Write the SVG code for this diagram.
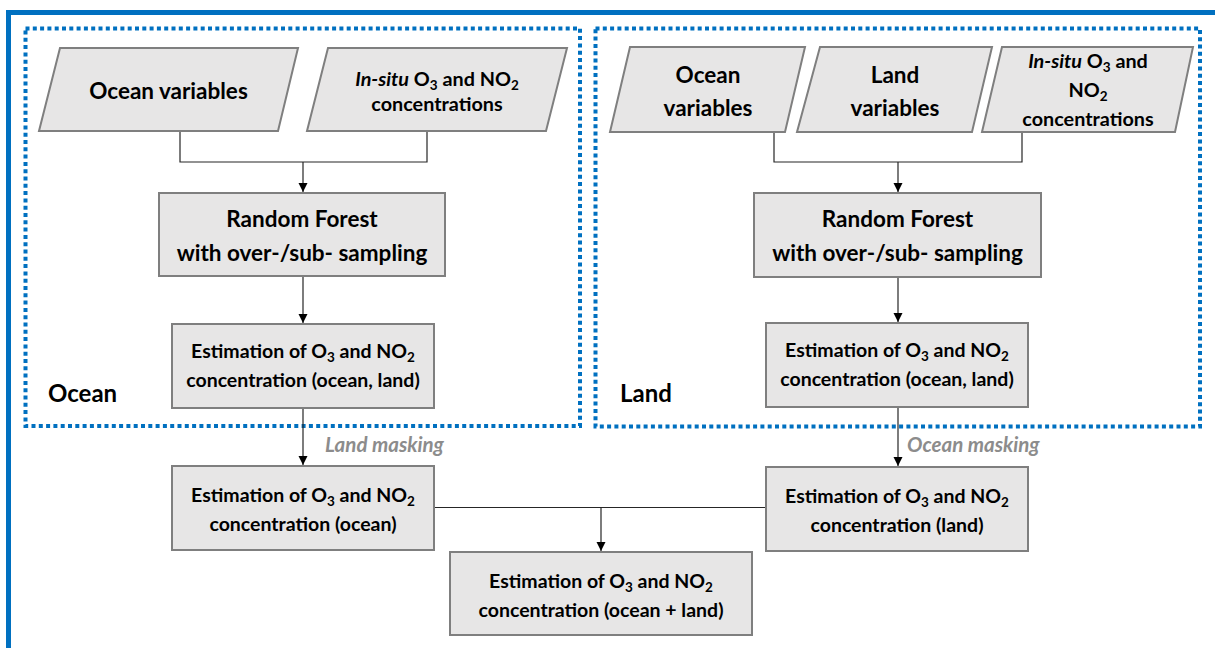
<svg xmlns="http://www.w3.org/2000/svg" width="1215" height="648" viewBox="0 0 1215 648">
<defs>
<marker id="arr" markerWidth="10" markerHeight="10" refX="9" refY="5" orient="auto" markerUnits="userSpaceOnUse">
<path d="M0,0.5 L9,5 L0,9.5 Z" fill="#000"/>
</marker>
<style>
.node{fill:#E7E6E6;stroke:#7F7F7F;stroke-width:2}
.t{font-family:Lato,"Open Sans",sans-serif;font-weight:bold;fill:#000;text-anchor:middle}
.big{font-size:22.5px}
.mid{font-size:19.8px}
.rf{font-size:22.5px}
.est{font-size:19.5px}
.sub{font-size:13.5px}
.lab{font-family:Lato,"Open Sans",sans-serif;font-weight:bold;font-size:24px;fill:#000}
.mask{font-family:Lato,"Open Sans",sans-serif;font-weight:bold;font-style:italic;font-size:20.5px;fill:#8C8C8C}
.conn{fill:none;stroke:#262626;stroke-width:1.2}
.dot{fill:none;stroke:#0070C0;stroke-width:4;stroke-dasharray:4 3.3}
</style>
</defs>
<rect width="1215" height="648" fill="#fff"/>
<path d="M8.5,648 V12.5 H1215" fill="none" stroke="#0070C0" stroke-width="5"/>
<g id="regions">
<rect class="dot" x="25.5" y="28.5" width="554.5" height="397.5"/>
<rect class="dot" x="595.5" y="28.5" width="604.5" height="398"/>
<text class="lab" x="48" y="402">Ocean</text>
<text class="lab" x="620" y="402">Land</text>
</g>
<g id="connectors">
<path class="conn" d="M180,131 V162 H427 V131"/>
<path class="conn" d="M303,162 V192" marker-end="url(#arr)"/>
<path class="conn" d="M303,276 V323" marker-end="url(#arr)"/>
<path class="conn" d="M303,408 V465" marker-end="url(#arr)"/>
<path class="conn" d="M774,132 V162 H1022 V132"/>
<path class="conn" d="M898,162 V192" marker-end="url(#arr)"/>
<path class="conn" d="M898,277 V322" marker-end="url(#arr)"/>
<path class="conn" d="M898,407 V466" marker-end="url(#arr)"/>
<path class="conn" d="M434,507.5 H765"/>
<path class="conn" d="M601,507.5 V551" marker-end="url(#arr)"/>
<text class="mask" x="325" y="452">Land masking</text>
<text class="mask" x="907" y="452">Ocean masking</text>
</g>
<g id="ocean-variables-left">
<polygon class="node" points="60,48 298,48 278,131 39,131"/>
<text class="t big" x="168.5" y="99">Ocean variables</text>
</g>
<g id="insitu-left">
<polygon class="node" points="328,48 567,48 546,131 307,131"/>
<text class="t mid" x="437" y="86"><tspan font-style="italic">In-situ</tspan> O<tspan class="sub" dy="4">3</tspan><tspan dy="-4"> and NO</tspan><tspan class="sub" dy="4">2</tspan></text>
<text class="t mid" x="437" y="111">concentrations</text>
</g>
<g id="rf-left">
<rect class="node" x="159" y="193" width="286" height="83"/>
<text class="t rf" x="302" y="227">Random Forest</text>
<text class="t rf" x="302" y="261">with over-/sub- sampling</text>
</g>
<g id="est-left">
<rect class="node" x="172" y="324" width="262" height="84"/>
<text class="t est" x="303" y="358"><tspan>Estimation of O</tspan><tspan class="sub" dy="4">3</tspan><tspan dy="-4"> and NO</tspan><tspan class="sub" dy="4">2</tspan></text>
<text class="t est" x="303" y="387">concentration (ocean, land)</text>
</g>
<g id="ocean-variables-right">
<polygon class="node" points="630,47 805,47 785,132 610,132"/>
<text class="t big" x="708" y="83">Ocean</text>
<text class="t big" x="708" y="116">variables</text>
</g>
<g id="land-variables-right">
<polygon class="node" points="820,47 992,47 972,132 797,132"/>
<text class="t big" x="895" y="83">Land</text>
<text class="t big" x="895" y="116">variables</text>
</g>
<g id="insitu-right">
<polygon class="node" points="1002,47 1193,47 1175,132 982,132"/>
<text class="t mid" x="1088" y="68"><tspan font-style="italic">In-situ</tspan> O<tspan class="sub" dy="4">3</tspan><tspan dy="-4"> and</tspan></text>
<text class="t mid" x="1088" y="97">NO<tspan class="sub" dy="4">2</tspan></text>
<text class="t mid" x="1088" y="126">concentrations</text>
</g>
<g id="rf-right">
<rect class="node" x="754" y="193" width="287" height="84"/>
<text class="t rf" x="897.5" y="227">Random Forest</text>
<text class="t rf" x="897.5" y="261">with over-/sub- sampling</text>
</g>
<g id="est-right">
<rect class="node" x="766" y="323" width="262" height="84"/>
<text class="t est" x="897" y="357"><tspan>Estimation of O</tspan><tspan class="sub" dy="4">3</tspan><tspan dy="-4"> and NO</tspan><tspan class="sub" dy="4">2</tspan></text>
<text class="t est" x="897" y="386">concentration (ocean, land)</text>
</g>
<g id="est-ocean">
<rect class="node" x="172" y="466" width="262" height="84"/>
<text class="t est" x="303" y="502"><tspan>Estimation of O</tspan><tspan class="sub" dy="4">3</tspan><tspan dy="-4"> and NO</tspan><tspan class="sub" dy="4">2</tspan></text>
<text class="t est" x="303" y="531">concentration (ocean)</text>
</g>
<g id="est-land">
<rect class="node" x="766" y="467" width="262" height="84"/>
<text class="t est" x="897" y="503"><tspan>Estimation of O</tspan><tspan class="sub" dy="4">3</tspan><tspan dy="-4"> and NO</tspan><tspan class="sub" dy="4">2</tspan></text>
<text class="t est" x="897" y="532">concentration (land)</text>
</g>
<g id="est-total">
<rect class="node" x="450" y="552" width="302" height="83"/>
<text class="t est" x="601" y="588"><tspan>Estimation of O</tspan><tspan class="sub" dy="4">3</tspan><tspan dy="-4"> and NO</tspan><tspan class="sub" dy="4">2</tspan></text>
<text class="t est" x="601" y="617">concentration (ocean + land)</text>
</g>
</svg>
